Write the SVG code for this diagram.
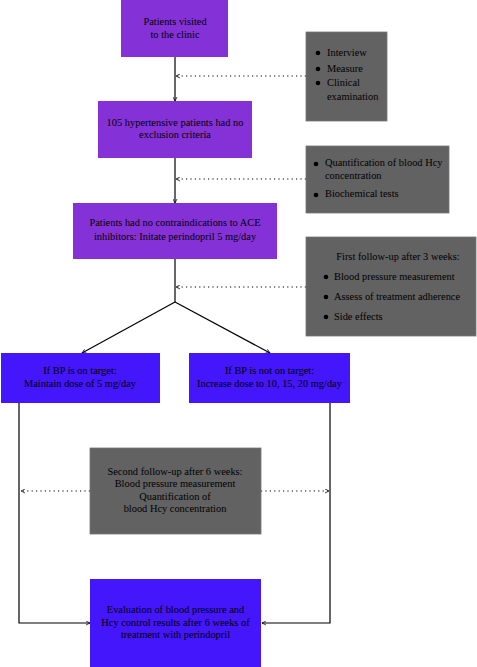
<svg xmlns="http://www.w3.org/2000/svg" width="477" height="667" viewBox="0 0 477 667">
<style>
.p{fill:#8432D8}
.b{fill:#4316FB}
.g{fill:#626262;stroke:#777;stroke-width:0.8}
text{font-family:"Liberation Serif","DejaVu Serif",serif;font-size:10.4px;fill:#000}
.c{text-anchor:middle}
.ln{stroke:#000;stroke-width:1.2;fill:none}
.dt{stroke:#000;stroke-width:1;fill:none;stroke-dasharray:1.2 3.2}
</style>
<defs>
<marker id="ar" viewBox="0 0 10 10" refX="9" refY="5" markerWidth="5" markerHeight="5" orient="auto" markerUnits="userSpaceOnUse">
<path d="M1,1 L9,5 L1,9" fill="none" stroke="#000" stroke-width="1.5"/>
</marker>
</defs>
<rect width="477" height="667" fill="#fff"/>
<g id="connectors">
<line class="ln" x1="175" y1="57" x2="175" y2="101" marker-end="url(#ar)"/>
<line class="dt" x1="306" y1="76" x2="176" y2="76" marker-end="url(#ar)"/>
<line class="ln" x1="175" y1="158" x2="175" y2="203" marker-end="url(#ar)"/>
<line class="dt" x1="306" y1="179" x2="176" y2="179" marker-end="url(#ar)"/>
<line class="ln" x1="175" y1="259" x2="175" y2="302"/>
<line class="dt" x1="306" y1="287" x2="176" y2="287" marker-end="url(#ar)"/>
<line class="ln" x1="175" y1="302" x2="82" y2="353" marker-end="url(#ar)"/>
<line class="ln" x1="175" y1="302" x2="270" y2="353" marker-end="url(#ar)"/>
<polyline class="ln" points="19,403 19,623 90,623" marker-end="url(#ar)"/>
<polyline class="ln" points="330,403 330,623 262,623" marker-end="url(#ar)"/>
<line class="dt" x1="90" y1="491" x2="21" y2="491" marker-end="url(#ar)"/>
<line class="dt" x1="261" y1="491" x2="329" y2="491" marker-end="url(#ar)"/>
</g>
<g id="n1">
<rect class="p" x="121" y="0" width="107" height="57"/>
<text class="c" x="175" y="25">Patients visited</text>
<text class="c" x="175" y="38">to the clinic</text>
</g>
<g id="g1">
<rect class="g" x="306" y="32" width="81" height="89"/>
<circle cx="318" cy="53" r="2.3"/><text x="327" y="56">Interview</text>
<circle cx="318" cy="69" r="2.3"/><text x="327" y="72">Measure</text>
<circle cx="318" cy="83" r="2.3"/><text x="327" y="86">Clinical</text>
<text x="327" y="100">examination</text>
</g>
<g id="n2">
<rect class="p" x="98" y="101" width="154" height="57"/>
<text class="c" x="175" y="126">105 hypertensive patients had no</text>
<text class="c" x="175" y="138">exclusion criteria</text>
</g>
<g id="g2">
<rect class="g" x="306" y="146" width="143" height="67"/>
<circle cx="316" cy="164" r="2.3"/><text x="325" y="166">Quantification of blood Hcy</text>
<text x="325" y="179">concentration</text>
<circle cx="316" cy="195" r="2.3"/><text x="325" y="197">Biochemical tests</text>
</g>
<g id="n3">
<rect class="p" x="73" y="203" width="204" height="56"/>
<text class="c" x="175" y="226">Patients had no contraindications to ACE</text>
<text class="c" x="175" y="240">inhibitors: Initate perindopril 5 mg/day</text>
</g>
<g id="g3">
<rect class="g" x="306" y="237" width="170" height="99"/>
<text class="c" x="398" y="260">First follow-up after 3 weeks:</text>
<circle cx="326" cy="277" r="2.3"/><text x="334" y="280">Blood pressure measurement</text>
<circle cx="326" cy="297" r="2.3"/><text x="334" y="300">Assess of treatment adherence</text>
<circle cx="326" cy="317" r="2.3"/><text x="334" y="320">Side effects</text>
</g>
<g id="n4">
<rect class="b" x="1" y="353" width="159" height="50"/>
<text class="c" x="80" y="374">If BP is on target:</text>
<text class="c" x="80" y="387">Maintain dose of 5 mg/day</text>
</g>
<g id="n5">
<rect class="b" x="189" y="353" width="161" height="50"/>
<text class="c" x="269.5" y="374">If BP is not on target:</text>
<text class="c" x="269.5" y="387">Increase dose to 10, 15, 20 mg/day</text>
</g>
<g id="g4">
<rect class="g" x="90" y="448" width="171" height="86"/>
<text class="c" x="175" y="475">Second follow-up after 6 weeks:</text>
<text class="c" x="175" y="487">Blood pressure measurement</text>
<text class="c" x="175" y="500">Quantification of</text>
<text class="c" x="175" y="512">blood Hcy concentration</text>
</g>
<g id="n6">
<rect class="b" x="90" y="579" width="171" height="88"/>
<text class="c" x="175.5" y="613">Evaluation of blood pressure and</text>
<text class="c" x="175.5" y="626">Hcy control results after 6 weeks of</text>
<text class="c" x="175.5" y="638">treatment with perindopril</text>
</g>
</svg>
